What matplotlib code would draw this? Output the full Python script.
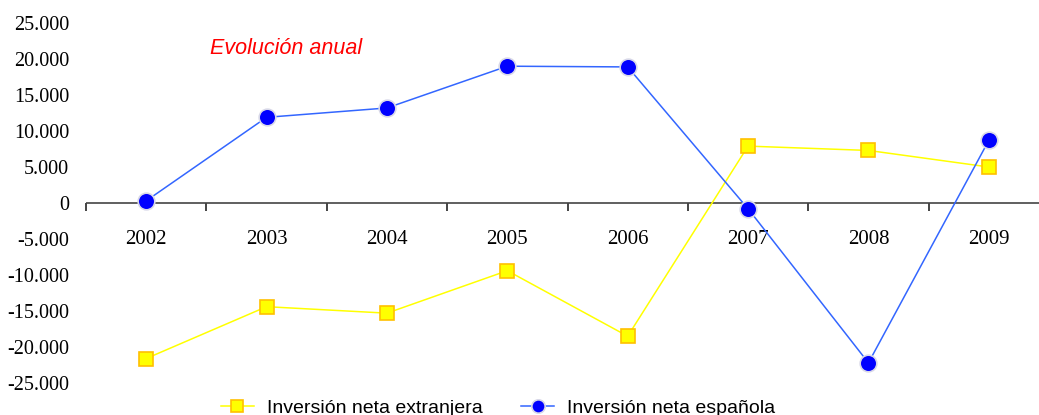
import matplotlib
matplotlib.use("Agg")
import matplotlib.pyplot as plt
from matplotlib.ticker import FuncFormatter

years = ["2002", "2003", "2004", "2005", "2006", "2007", "2008", "2009"]
extranjera = [-21600, -14400, -15300, -9400, -18500, 7900, 7300, 5000]
espanola = [300, 11900, 13200, 19000, 18900, -800, -22200, 8700]
yticks = [-25000, -20000, -15000, -10000, -5000, 0, 5000, 10000, 15000, 20000, 25000]

W, H = 1039, 415
fig = plt.figure(figsize=(W / 100, H / 100), dpi=100)
left, right, top, bottom = 86, 1049, 23, 383
ax = fig.add_axes([left / W, 1 - bottom / H, (right - left) / W, (bottom - top) / H])

x = list(range(len(years)))
l1, = ax.plot(x, extranjera, color="#FFFF00", lw=1.1, marker="s", ms=10.5,
              mfc="#FFFF00", mec="#FFC000", mew=1.2, label="Inversión neta extranjera", zorder=3)
l2, = ax.plot(x, espanola, color="#3366FF", lw=1.1, marker="o", ms=12,
              mfc="#0000FF", mec="#D8D8E8", mew=1.2, label="Inversión neta española", zorder=4)

ax.set_xlim(-0.5, 7.5)
ax.set_ylim(-25000, 25000)
for s in ["top", "right", "left", "bottom"]:
    ax.spines[s].set_visible(False)
ax.axhline(0, color="#444444", lw=1.2, zorder=2)

ax.set_yticks(yticks)
ax.yaxis.set_major_formatter(FuncFormatter(lambda v, p: f"{int(v):,}".replace(",", ".")))
ax.tick_params(axis="y", length=0, pad=12, labelsize=14.5)
for t in ax.get_yticklabels():
    t.set_fontfamily("Liberation Serif")

ax.xaxis.set_visible(False)
for i, yr in enumerate(years):
    ax.annotate(yr, xy=(i, 0), xytext=(0, -36), textcoords="offset pixels",
                ha="center", va="center", fontsize=15, fontfamily="Liberation Serif")
for b in [i - 0.5 for i in range(len(years) + 1)]:
    ax.plot([b, b], [0, 0], marker=3, ms=6, color="#444444", mew=1.2, zorder=2, clip_on=False)

fig.text(210 / W, 1 - 49 / H, "Evolución anual", color="red", style="italic",
         fontfamily="Liberation Sans", fontsize=15.5, va="center", ha="left")

fig.legend(handles=[l1, l2], loc="center", bbox_to_anchor=(498 / W, 1 - 408 / H),
           ncol=2, frameon=False, prop={"family": "Liberation Sans", "size": 14},
           handlelength=1.7, columnspacing=2.0, handletextpad=0.65, markerscale=0.8,
           borderpad=0.2)

fig.savefig("out.png", dpi=100)
